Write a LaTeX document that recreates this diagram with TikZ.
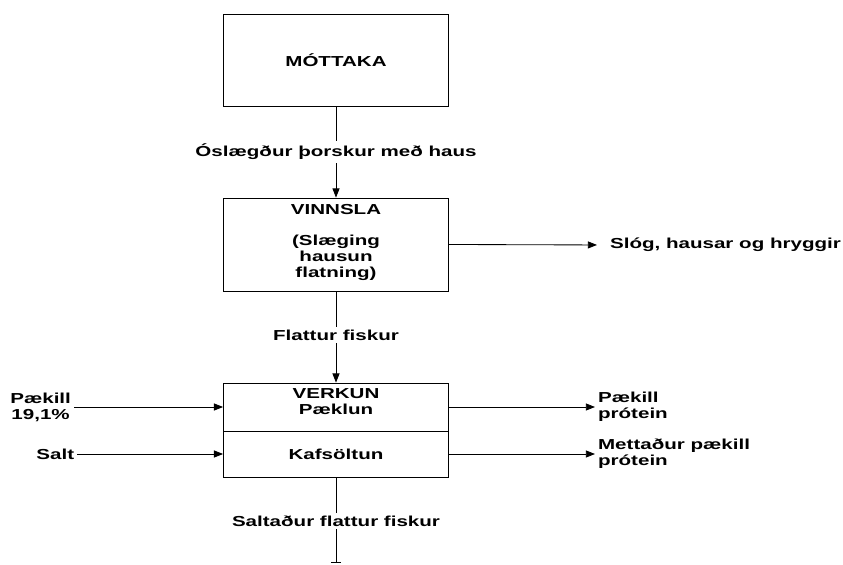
\documentclass[tikz,border=0pt]{standalone}
\usepackage{fontspec}
\setmainfont{Liberation Sans}[FakeStretch=1.42]
\usetikzlibrary{arrows.meta}

\begin{document}
\begin{tikzpicture}[
  box/.style={draw, line width=0.6pt, minimum width=5.625cm, inner sep=0pt},
  txt/.style={inner sep=2pt, align=center, font=\fontsize{10.3}{11.2}\selectfont\bfseries},
  flow/.style={line width=0.6pt, -{Triangle[length=6.5pt,width=5pt]}},
  line/.style={line width=0.6pt}
]
\useasboundingbox (0,0) rectangle (21.075,14.100);
\node[box, minimum height=2.300cm, txt] (mottaka) at (8.400,12.600) {MÓTTAKA};
\node[txt] (oslaegdur) at (8.400,10.300) {Óslægður þorskur með haus};
\node[box, minimum height=2.325cm] (vinnsla) at (8.400,7.988) {};
\node[txt] (vinnslatxt) at (8.400,8.050) {VINNSLA\\[11.2pt](Slæging\\hausun\\flatning)};
\node[txt, anchor=west] (slog) at (15.175,7.975) {Slóg, hausar og hryggir};
\node[txt] (flattur) at (8.400,5.725) {Flattur fiskur};
\node[box, minimum height=1.200cm] (paeklun) at (8.400,3.925) {};
\node[box, minimum height=1.150cm, txt] (kafsoltun) at (8.400,2.750) {Kafsöltun};
\node[txt] (verkuntxt) at (8.400,4.063) {VERKUN\\Pæklun};
\node[txt, anchor=east] (paekillin) at (1.850,3.925) {Pækill\\19,1\%};
\node[txt, anchor=east] (salt) at (1.930,2.750) {Salt};
\node[txt, anchor=west, align=left] (paekillut) at (14.875,3.925) {Pækill\\prótein};
\node[txt, anchor=west, align=left] (mettadur) at (14.875,2.750) {Mettaður pækill\\prótein};
\node[txt] (saltadur) at (8.400,1.075) {Saltaður flattur fiskur};
\coordinate (endir) at (8.400,0.040);
\draw[line] (mottaka) -- (oslaegdur);
\draw[flow] (oslaegdur) -- (vinnsla);
\draw[flow, shorten >=0.25cm] (vinnsla.east) -- (slog.west);
\draw[line] (vinnsla) -- (flattur);
\draw[flow] (flattur) -- (paeklun);
\draw[flow] (paekillin.east) -- (paeklun.west);
\draw[flow] (salt.east) -- (kafsoltun.west);
\draw[flow] (paeklun.east) -- (paekillut.west);
\draw[flow] (kafsoltun.east) -- (mettadur.west);
\draw[line] (kafsoltun) -- (saltadur);
\draw[line, -{Bar[width=7pt]}] (saltadur) -- (endir);
\end{tikzpicture}
\end{document}
